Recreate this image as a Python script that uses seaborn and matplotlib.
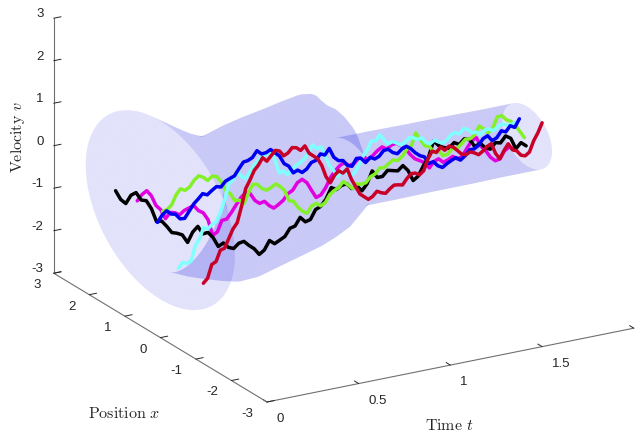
import numpy as np
import matplotlib
matplotlib.use("Agg")
import matplotlib.pyplot as plt
import seaborn as sns
from mpl_toolkits.mplot3d import proj3d

TIME = [0.000,0.025,0.050,0.075,0.100,0.125,0.150,0.175,0.200,0.225,0.250,0.275,0.300,0.325,0.350,0.375,0.400,0.425,0.450,0.475,
        0.500,0.525,0.550,0.575,0.600,0.625,0.650,0.675,0.700,0.725,0.750,0.775,0.800,0.825,0.850,0.875,0.900,0.925,0.950,0.975,
        1.000,1.025,1.050,1.075,1.100,1.125,1.150,1.175,1.200,1.225,1.250,1.275,1.300,1.325,1.350,1.375,1.400,1.425,1.450,1.475,
        1.500,1.525,1.550,1.575,1.600,1.625,1.650,1.675,1.700,1.725,1.750,1.775,1.800,1.825,1.850,1.875,1.900,1.925,1.950,1.975,2.000]

x_black = [1.26,1.245,1.23,1.215,1.20,1.185,1.17,1.155,1.14,1.125,1.11,1.095,1.08,1.06,1.04,1.025,1.01,.995,.98,.965,.95,.935,.92,.905,.89,.875,.86,.845,.83,.815,.80,.785,.77,.755,.74,.725,.71,.695,.68,.665,.65,.63,.61,.595,.58,.565,.55,.535,.52,.505,.49,.475,.46,.445,.43,.415,.40,.385,.37,.355,.34,.325,.31,.295,.28,.265,.25,.235,.22,.20,.18,.165,.15,.135,.12,.105,.09,.075,.06,.045,.03]
v_black = [-.18,-.40,-.51,-.33,-.28,-.47,-.50,-.70,-1.02,-1.02,-1.16,-1.32,-1.35,-1.40,-1.59,-1.36,-1.24,-1.43,-1.41,-1.55,-1.77,-1.70,-1.82,-1.86,-1.75,-1.72,-1.83,-1.92,-2.07,-1.98,-1.77,-1.86,-1.79,-1.72,-1.54,-1.50,-1.31,-1.43,-1.39,-1.17,-1.11,-.95,-.69,-.75,-.67,-.64,-.77,-.72,-.85,-.70,-.41,-.58,-.57,-.44,-.46,-.48,-.37,-.50,-.75,-.66,-.43,-.24,.13,.00,-.06,-.09,.03,-.03,.09,.06,-.12,-.05,-.17,-.22,-.08,-.10,.05,-.02,-.28,-.15,-.24]
x_magenta = [.65,.645,.64,.64,.64,.635,.63,.625,.62,.62,.62,.615,.61,.605,.60,.595,.59,.59,.59,.585,.58,.575,.57,.57,.57,.565,.56,.555,.55,.55,.55,.545,.54,.535,.53,.525,.52,.52,.52,.515,.51,.505,.50,.50,.50,.495,.49,.485,.48,.48,.48,.475,.47,.465,.46,.455,.45,.45,.45,.445,.44,.435,.43,.43,.43,.425,.42,.415,.41,.41,.41,.405,.40,.395,.39,.385,.38,.38,.38,.375,.37]
v_magenta = [-.11,.02,.09,-.05,-.30,-.42,-.65,-.52,-.55,-.62,-.54,-.50,-.46,-.60,-.67,-.85,-1.24,-1.18,-.93,-.92,-.78,-.62,-.47,-.38,-.42,-.60,-.69,-.66,-.78,-.86,-.80,-.72,-.58,-.52,-.36,-.30,-.40,-.60,-.79,-.75,-.60,-.38,-.24,-.14,-.09,-.18,-.15,-.05,-.03,-.12,-.05,.05,.12,.05,.13,.15,.07,-.02,-.18,-.30,-.36,-.43,-.57,-.44,-.40,-.50,-.46,-.40,-.48,-.44,-.28,-.12,-.06,-.28,-.41,-.58,-.68,-.66,-.49,-.42,-.48]
x_blue = [.08,.08,.08,.085,.09,.09,.09,.09,.09,.095,.10,.10,.10,.10,.10,.105,.11,.11,.11,.115,.12,.12,.12,.12,.12,.125,.13,.13,.13,.13,.13,.135,.14,.14,.14,.14,.14,.145,.15,.15,.15,.15,.15,.155,.16,.16,.16,.16,.16,.165,.17,.17,.17,.17,.17,.175,.18,.18,.18,.185,.19,.19,.19,.19,.19,.195,.20,.20,.20,.20,.20,.205,.21,.21,.21,.21,.21,.215,.22,.22,.22]
v_blue = [-.33,-.18,-.10,-.20,-.23,-.36,-.37,-.22,-.07,.02,.12,.07,.15,.22,.19,.30,.34,.38,.53,.66,.67,.72,.86,.76,.77,.82,.72,.62,.42,.34,.16,.20,.12,.18,.31,.34,.47,.42,.55,.32,.22,.20,.06,.02,.18,.16,.04,.14,.08,.12,.23,.24,.14,.09,.18,.22,.14,.02,-.07,-.12,-.30,-.28,-.40,-.46,-.39,-.34,-.30,-.38,-.30,-.18,-.18,-.12,.01,.06,-.08,-.03,.11,.06,.18,.12,.30]
x_green = [-.06,-.06,-.06,-.055,-.05,-.05,-.05,-.05,-.05,-.045,-.04,-.04,-.04,-.04,-.04,-.035,-.03,-.03,-.03,-.025,-.02,-.02,-.02,-.02,-.02,-.015,-.01,-.01,-.01,-.01,-.01,-.005,0,0,0,0,0,.005,.01,.01,.01,.01,.01,.015,.02,.02,.02,.02,.02,.025,.03,.03,.03,.03,.03,.035,.04,.04,.04,.045,.05,.05,.05,.05,.05,.055,.06,.06,.06,.06,.06,.065,.07,.07,.07,.07,.07,.075,.08,.08,.08]
v_green = [0,.02,.11,.32,.44,.38,.44,.58,.66,.60,.50,.58,.55,.40,.17,.08,-.11,-.12,-.22,.00,.18,.16,.04,-.02,.02,.08,0,-.12,-.38,-.42,-.59,-.70,-.77,-.62,-.58,-.66,-.60,-.44,-.37,-.32,-.20,-.30,-.41,-.32,-.36,-.34,-.22,-.18,-.06,-.08,-.01,.06,.02,.10,.25,.30,.58,.40,.23,.20,.03,.06,-.09,-.08,.03,.00,.08,.18,.17,.24,.43,.34,.22,.30,.55,.56,.44,.38,.27,.10,-.07]
x_cyan = [-.51,-.50,-.49,-.48,-.47,-.455,-.44,-.43,-.42,-.41,-.40,-.39,-.38,-.37,-.36,-.345,-.33,-.32,-.31,-.30,-.29,-.28,-.27,-.26,-.25,-.235,-.22,-.21,-.20,-.19,-.18,-.17,-.16,-.15,-.14,-.125,-.11,-.10,-.09,-.08,-.07,-.06,-.05,-.04,-.03,-.015,0,.01,.02,.03,.04,.05,.06,.07,.08,.095,.11,.12,.13,.14,.15,.16,.17,.18,.19,.205,.22,.23,.24,.25,.26,.27,.28,.29,.30,.315,.33,.34,.35,.36,.37]
v_cyan = [-1.11,-1.00,-1.05,-1.02,-.68,-.56,-.32,-.38,-.30,-.26,-.07,.20,.55,.62,.80,.64,.56,.68,.83,.90,.99,1.00,1.05,.80,.48,.50,.38,.48,.54,.58,.65,.76,.92,.80,.82,.58,.32,.18,.01,.12,.05,-.05,-.01,.14,.34,.44,.63,.60,.72,.58,.45,.48,.42,.34,.39,.46,.43,.36,.38,.24,.18,.24,.17,.12,.17,.26,.28,.22,.32,.27,.17,.16,.07,.15,.15,.08,.12,.18,.14,.10,.13]
x_red = [-1.21,-1.20,-1.19,-1.18,-1.17,-1.16,-1.15,-1.14,-1.13,-1.12,-1.11,-1.10,-1.09,-1.08,-1.07,-1.06,-1.05,-1.04,-1.03,-1.02,-1.01,-1.00,-.99,-.98,-.97,-.96,-.95,-.94,-.93,-.92,-.91,-.90,-.89,-.88,-.87,-.86,-.85,-.84,-.83,-.82,-.81,-.805,-.80,-.79,-.78,-.77,-.76,-.75,-.74,-.73,-.72,-.71,-.70,-.69,-.68,-.67,-.66,-.65,-.64,-.63,-.62,-.61,-.60,-.59,-.58,-.57,-.56,-.55,-.54,-.53,-.52,-.51,-.50,-.49,-.48,-.47,-.46,-.45,-.44,-.43,-.42]
v_red = [-1.11,-1.02,-.72,-.68,-.44,-.42,-.22,-.02,.10,.45,.85,1.02,1.22,1.32,1.47,1.36,1.46,1.56,1.52,1.38,1.42,1.52,1.49,1.40,1.48,1.28,1.19,1.10,.91,.62,.45,.60,.68,.60,.67,.40,.20,.00,-.09,-.18,-.14,-.04,-.10,-.14,-.06,.00,-.02,-.05,.07,.16,.15,.08,.15,.40,.56,.50,.60,.50,.57,.52,.41,.30,.26,.30,.25,.18,.24,.32,.36,.10,-.05,.12,.25,.08,.03,-.10,-.14,-.08,.16,.32,.53]

# Tube cross-sections: ellipses with half-axes a and b, the long one tilted by tube_tilt degrees off the v axis
tube_t = [0,.03,.06,.09,.12,.15,.20,.28,.36,.45,.52,.60,.66,.72,.815,.88,.93,.97,1.00,1.03,1.20,1.40,1.60,1.80,2.00]
tube_a = [2.10,2.10,2.08,2.06,2.05,2.05,2.15,2.35,2.52,2.70,2.83,2.95,2.80,2.50,2.07,1.85,1.62,1.40,1.05,.72,.72,.71,.71,.70,.70]
tube_b = [2.10,1.75,1.40,1.10,.90,.75,.75,.78,.78,.75,.75,.75,.75,.74,.72,.72,.72,.72,.72,.72,.72,.71,.71,.70,.70]
tube_tilt = [23.6,23.6,23.6,23.6,23.6,23.6,23.6,23.6,23.6,23.6,23.6,23.6,22,20,16,14,12,10,8,5,0,0,0,0,0]

series = [("magenta", x_magenta, v_magenta, "#e000e0"),
          ("black", x_black, v_black, "#000000"),
          ("green", x_green, v_green, "#84f02a"),
          ("cyan", x_cyan, v_cyan, "#80ffff"),
          ("blue", x_blue, v_blue, "#0000f0"),
          ("red", x_red, v_red, "#c80028")]

sns.set_theme(style="white", font="Liberation Sans")
plt.rcParams["axes.unicode_minus"] = False
plt.rcParams["mathtext.fontset"] = "cm"

W, H = 644, 433
fig = plt.figure(figsize=(W/100, H/100), dpi=100)
ax = fig.add_subplot(projection="3d", proj_type="ortho", computed_zorder=False)
ax.set_position([-0.1, -0.5, 1.2, 2.0])
ax.view_init(elev=20.4, azim=-120)

theta = np.linspace(0, 2*np.pi, 97)
T, A = np.meshgrid(tube_t, theta)
La = np.array(tube_a)[None, :]*np.cos(A)
Lb = np.array(tube_b)[None, :]*np.sin(A)
phi = np.radians(np.array(tube_tilt))[None, :]
ax.plot_surface(T, -La*np.sin(phi) + Lb*np.cos(phi), La*np.cos(phi) + Lb*np.sin(phi),
                color=(0.15, 0.15, 0.9, 0.13), rstride=1, cstride=1, linewidth=0,
                antialiased=True, shade=False, zorder=1)

for i, (name, xs, vs, col) in enumerate(series):
    ax.plot(TIME, xs, vs, color=col, lw=2.5, zorder=3+i, solid_joinstyle="round")

ax.set_xlim3d(0, 2, view_margin=0)
ax.set_ylim3d(-3, 3, view_margin=0)
ax.set_zlim3d(-3, 3, view_margin=0)
ax.set_xticks([0, .5, 1, 1.5, 2], ["0", "0.5", "1", "1.5", ""])
ax.set_yticks([-3, -2, -1, 0, 1, 2, 3], ["-3", "-2", "-1", "0", "1", "2", "3"])
ax.set_zticks([-3, -2, -1, 0, 1, 2, 3], ["-3", "-2", "-1", "0", "1", "2", "3"])
ax.grid(False)
for a in (ax.xaxis, ax.yaxis, ax.zaxis):
    a.pane.set_visible(False)
    a.line.set_color("#707070")
    a.line.set_linewidth(0.8)
    a._axinfo["tick"]["inward_factor"] = 0.0
    a._axinfo["tick"]["outward_factor"] = 0.25
    a._axinfo["tick"]["color"] = "#707070"
    a._axinfo["tick"]["linewidth"] = {True: 0.7, False: 0.5}
ax.tick_params(axis="both", labelsize=9.5, colors="#262626", pad=2.5)
ax.tick_params(axis="x", pad=5)
ax.tick_params(axis="z", pad=-3)
plt.setp(ax.get_xticklabels(), ha="left", va="center")
plt.setp(ax.get_yticklabels(), ha="right", va="center")
plt.setp(ax.get_zticklabels(), ha="right", va="baseline")

# fit the projected box onto the reference's frame
aspect = (425, 428, 273)
def disp(p):
    ax.apply_aspect()
    u, v, _ = proj3d.proj_transform(*p, ax.get_proj())
    return ax.transData.transform((u, v))
zoom = 1.0
ax.set_box_aspect(aspect, zoom=zoom)
fig.canvas.draw()
near = (0, -3, -3); far = (2, 3, -3)
want_near = np.array([267, H-402]); want_far = np.array([634-214, H-(328-129)])
for _ in range(3):
    a, b = disp(near), disp(far)
    zoom *= np.linalg.norm(want_far-want_near)/np.linalg.norm(b-a)
    ax.set_box_aspect(aspect, zoom=zoom)
    a = disp(near)
    d = (want_near-a)/np.array([W, H])
    pos = ax.get_position(original=True)
    ax.set_position([pos.x0+d[0], pos.y0+d[1], pos.width, pos.height])

fig.text(18/W, 1-137/H, r"$\mathrm{Velocity}\ v$", rotation=90, ha="center", va="center", fontsize=11.5, color="#262626")
fig.text(124/W, 1-413/H, r"$\mathrm{Position}\ x$", ha="center", va="center", fontsize=11.5, color="#262626")
fig.text(449/W, 1-426/H, r"$\mathrm{Time}\ t$", ha="center", va="center", fontsize=11.5, color="#262626")

fig.savefig("out.png", dpi=100, facecolor="white")
